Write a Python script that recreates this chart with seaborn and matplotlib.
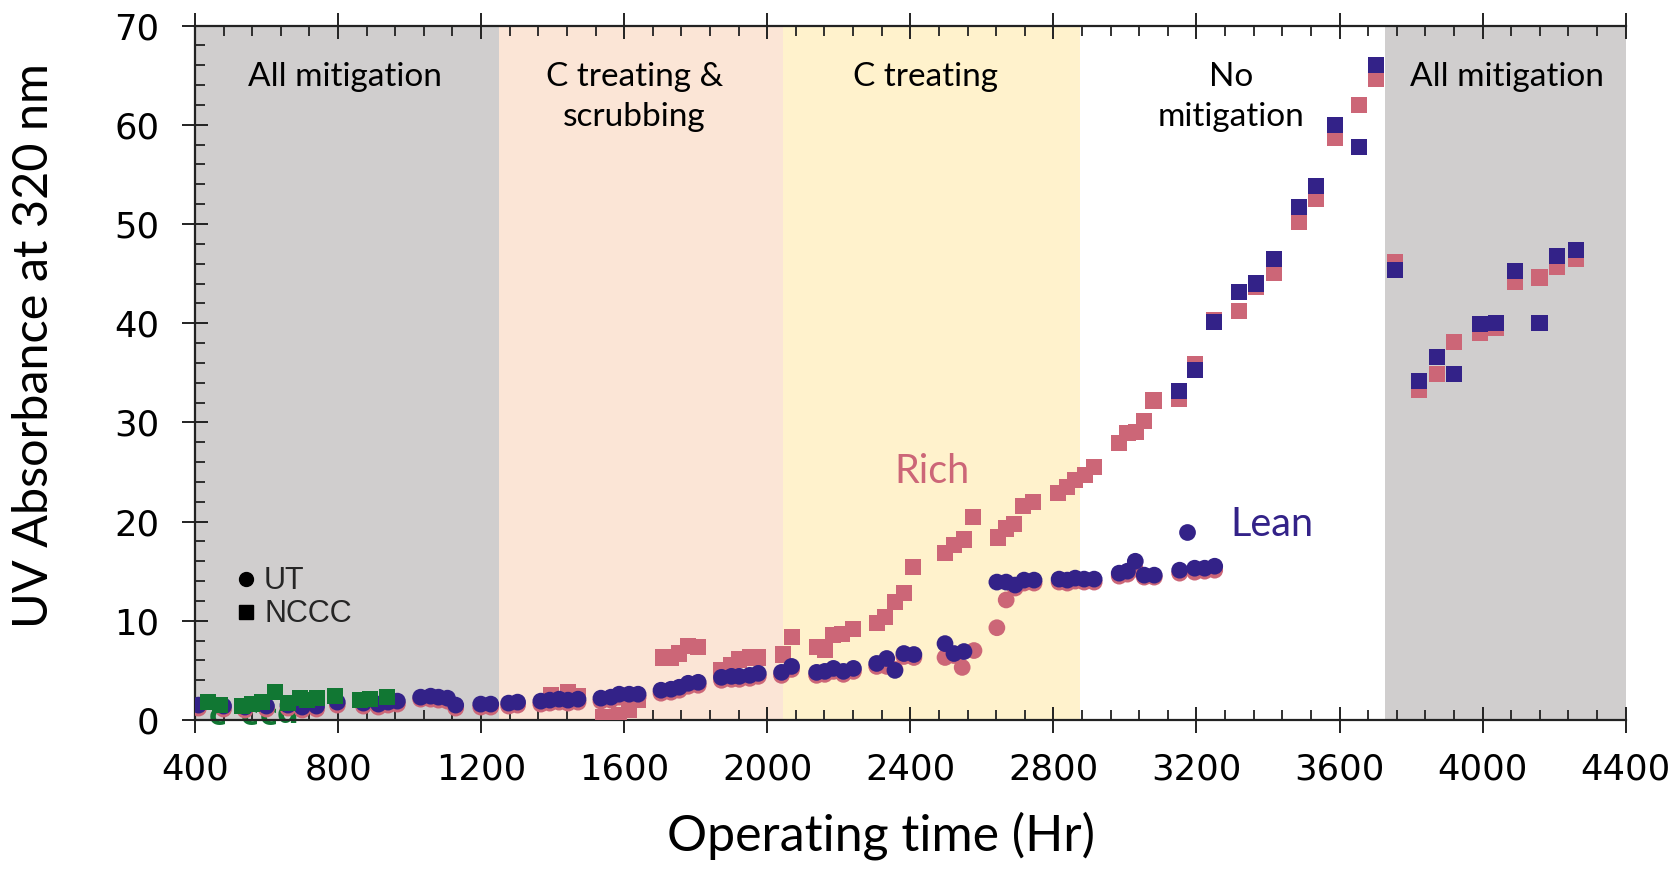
import numpy as np
import pandas as pd
import matplotlib
matplotlib.use("Agg")
import matplotlib.pyplot as plt
import seaborn as sns
from matplotlib.ticker import MultipleLocator
from matplotlib.lines import Line2D

# ---------------- data ----------------
phase_edges = [400, 1250, 2045, 2875, 3727, 4400]
phase_colors = ["#D0CECE", "#FBE5D6", "#FFF2CC", "#FFFFFF", "#D0CECE"]
phase_labels = ["All mitigation", "C treating &\nscrubbing", "C treating", "No\nmitigation", "All mitigation"]
phase_label_x = [820, 1628, 2442, 3297, 4068]

ut_lean_time = [410, 480, 540, 600, 660, 700, 740, 798, 871, 913, 940, 966, 1031, 1059, 1081, 1106, 1129,
                1199, 1227, 1277, 1302, 1367, 1392, 1418, 1443, 1471, 1535, 1563, 1586, 1614, 1639,
                1703, 1731, 1754, 1779, 1807, 1872, 1900, 1922, 1951, 1975, 2040, 2068,
                2138, 2161, 2185, 2213, 2241, 2306, 2334, 2357, 2382, 2410, 2497, 2522, 2550,
                2642, 2668, 2693, 2718, 2746, 2816, 2839, 2861, 2886, 2914,
                2984, 3007, 3029, 3054, 3082, 3153, 3175, 3195, 3223, 3251]
ut_lean = [1.5, 1.4, 1.3, 1.4, 1.5, 1.3, 1.4, 1.8, 1.7, 1.6, 1.8, 1.9, 2.3, 2.4, 2.3, 2.2, 1.5,
           1.6, 1.6, 1.7, 1.8, 1.9, 2.0, 2.1, 2.0, 2.1, 2.2, 2.3, 2.6, 2.6, 2.6,
           3.0, 3.1, 3.3, 3.7, 3.8, 4.3, 4.4, 4.4, 4.5, 4.7, 4.8, 5.4,
           4.8, 4.9, 5.2, 4.9, 5.2, 5.7, 6.2, 5.0, 6.7, 6.6, 7.7, 6.7, 6.9,
           13.9, 13.9, 13.6, 14.1, 14.1, 14.2, 14.1, 14.3, 14.2, 14.2,
           14.8, 15.0, 16.0, 14.6, 14.6, 15.1, 18.9, 15.3, 15.3, 15.5]

ut_rich_time = [410, 480, 540, 600, 660, 700, 740, 798, 871, 913, 940, 966, 1031, 1059, 1081, 1106, 1129,
                1199, 1227, 1277, 1302, 1367, 1392, 1418, 1443, 1471, 1535, 1563, 1586, 1614, 1639,
                1703, 1731, 1754, 1779, 1807, 1872, 1900, 1922, 1951, 1975, 2040, 2068,
                2138, 2161, 2185, 2213, 2241, 2306, 2334, 2357, 2382, 2410, 2497, 2522, 2545, 2578,
                2642, 2668, 2693, 2718, 2746, 2816, 2839, 2861, 2886, 2914,
                2984, 3007, 3029, 3054, 3082, 3153, 3195, 3223, 3251]
ut_rich = [1.2, 1.1, 1.0, 1.1, 1.2, 1.0, 1.1, 1.5, 1.4, 1.3, 1.5, 1.6, 2.1, 2.1, 2.0, 1.9, 1.2,
           1.3, 1.3, 1.4, 1.5, 1.6, 1.7, 1.8, 1.7, 1.8, 1.9, 2.0, 2.3, 2.3, 2.3,
           2.7, 2.8, 3.0, 3.4, 3.5, 4.0, 4.1, 4.1, 4.2, 4.4, 4.5, 5.1,
           4.5, 4.6, 4.9, 4.6, 4.9, 5.4, 5.4, 5.1, 6.4, 6.3, 6.3, 6.5, 5.3, 7.0,
           9.3, 12.1, 13.3, 13.8, 13.8, 13.9, 13.8, 14.0, 13.9, 13.9,
           14.5, 14.7, 15.2, 14.4, 14.4, 14.8, 14.9, 15.0, 15.1]

nccc_rich_time = [1395, 1443, 1471, 1540, 1563, 1586, 1614, 1639, 1709, 1731, 1754, 1779, 1807,
                  1872, 1900, 1922, 1951, 1975, 2045, 2068, 2138, 2161, 2185, 2208, 2239,
                  2306, 2329, 2357, 2382, 2407, 2497, 2522, 2550, 2575, 2645, 2668, 2690, 2715, 2743,
                  2813, 2839, 2861, 2889, 2913, 2983, 3007, 3030, 3054, 3080,
                  3150, 3197, 3249, 3318, 3367, 3416, 3487, 3535, 3587, 3655, 3703,
                  3755, 3823, 3872, 3921, 3993, 4038, 4091, 4159, 4208, 4260]
nccc_rich = [2.5, 2.8, 2.4, 0.3, 0.2, 0.5, 1.0, 2.0, 6.3, 6.3, 6.7, 7.5, 7.4,
             5.0, 5.5, 6.1, 6.3, 6.3, 6.6, 8.4, 7.4, 7.1, 8.6, 8.7, 9.2,
             9.8, 10.4, 11.9, 12.8, 15.4, 16.8, 17.6, 18.2, 20.5, 18.4, 19.3, 19.8, 21.6, 22.0,
             22.9, 23.5, 24.2, 24.7, 25.5, 27.9, 28.9, 29.0, 30.1, 32.2,
             32.4, 35.9, 40.3, 41.2, 43.7, 45.1, 50.2, 52.5, 58.7, 62.0, 64.6,
             46.2, 33.3, 34.9, 38.1, 39.0, 39.5, 44.2, 44.6, 45.7, 46.5]

nccc_lean_time = [3150, 3197, 3249, 3318, 3367, 3416, 3487, 3535, 3587, 3655, 3703,
                  3755, 3823, 3872, 3921, 3993, 4038, 4091, 4159, 4208, 4260]
nccc_lean = [33.2, 35.3, 40.1, 43.1, 44.0, 46.5, 51.7, 53.8, 60.0, 57.8, 66.0,
             45.4, 34.2, 36.6, 34.9, 39.9, 40.0, 45.3, 40.0, 46.8, 47.4]

green_time = [436, 470, 532, 560, 588, 624, 660, 694, 714, 742, 792, 862, 890, 938]
green_vals = [1.8, 1.5, 1.4, 1.6, 1.8, 2.8, 1.7, 2.2, 2.0, 2.2, 2.4, 2.0, 2.1, 2.3]
green_letters = ["c", "c", "c", "d"]
green_letter_x = [464, 554, 605, 658]
green_letter_y = [0.35, 0.35, 0.35, 0.6]

rich_color = "#CC6677"
lean_color = "#332288"
green_color = "#117733"

# ---------------- style ----------------
sns.set_theme(style="white")
plt.rcParams['font.family'] = ['DejaVu Sans']

fig = plt.figure(figsize=(16.72, 8.88), dpi=100)
ax = fig.add_axes([0.1166, 0.1892, 0.8557, 0.7820])

# phase shading and labels
for i in range(len(phase_colors)):
    ax.axvspan(phase_edges[i], phase_edges[i + 1], color=phase_colors[i], lw=0, zorder=0)
for lab, xx in zip(phase_labels, phase_label_x):
    yy = 62.8 if "\n" in lab else 64.8
    ax.text(xx, yy, lab, ha="center", va="center", family="Lato", fontsize=24,
            color="black", linespacing=1.38, zorder=1)

# green letters (under squares)
for t, gx, gy in zip(green_letters, green_letter_x, green_letter_y):
    ax.text(gx, gy, t, color=green_color, fontsize=22, fontweight="bold", ha="center",
            va="center", zorder=2)

sz_c = 145
sz_s = 135
sns.scatterplot(x=ut_rich_time, y=ut_rich, marker="o", s=sz_c, color=rich_color,
                edgecolor="none", linewidth=0, ax=ax, zorder=3, legend=False)
sns.scatterplot(x=nccc_rich_time, y=nccc_rich, marker="s", s=sz_s, color=rich_color,
                edgecolor="none", linewidth=0, ax=ax, zorder=3, legend=False)
sns.scatterplot(x=ut_lean_time, y=ut_lean, marker="o", s=sz_c, color=lean_color,
                edgecolor="none", linewidth=0, ax=ax, zorder=4, legend=False)
sns.scatterplot(x=nccc_lean_time, y=nccc_lean, marker="s", s=sz_s, color=lean_color,
                edgecolor="none", linewidth=0, ax=ax, zorder=4, legend=False)
sns.scatterplot(x=green_time, y=green_vals, marker="s", s=sz_s, color=green_color,
                edgecolor="none", linewidth=0, ax=ax, zorder=5, legend=False)

ax.text(2460, 25.0, "Rich", color=rich_color, family="Lato", fontsize=28.5, ha="center", va="center")
ax.text(3411, 19.7, "Lean", color=lean_color, family="Lato", fontsize=28.5, ha="center", va="center")

# axes
ax.set_xlim(400, 4400)
ax.set_ylim(0, 70)
ax.xaxis.set_major_locator(MultipleLocator(400))
ax.xaxis.set_minor_locator(MultipleLocator(80))
ax.yaxis.set_major_locator(MultipleLocator(10))
ax.yaxis.set_minor_locator(MultipleLocator(2))
ax.tick_params(which="major", direction="inout", length=19, width=1.4, color="#222222",
               top=True, bottom=True, left=True, right=False, labelsize=25.5, labelcolor="black")
ax.tick_params(which="minor", direction="in", length=7, width=1.3, color="#222222",
               top=True, bottom=True, left=True, right=False)
ax.tick_params(axis="x", pad=14)
ax.tick_params(axis="y", pad=16)
for side in ["left", "bottom", "top"]:
    ax.spines[side].set_visible(True)
    ax.spines[side].set_color("#222222")
    ax.spines[side].set_linewidth(1.6)
ax.spines["right"].set_visible(False)
ax.grid(False)

ax.set_xlabel("Operating time (Hr)", family="Lato", fontsize=36, color="black")
ax.set_ylabel("UV Absorbance at 320 nm", family="Lato", fontsize=35, color="black")
ax.xaxis.set_label_coords(0.4795, -0.132)
ax.yaxis.set_label_coords(-0.097, 0.539)

handles = [Line2D([], [], marker="o", color="black", ls="", ms=10),
           Line2D([], [], marker="s", color="black", ls="", ms=10)]
leg = ax.legend(handles, ["UT", "NCCC"], loc="center left", bbox_to_anchor=(0.028, 0.176),
                frameon=False, prop={"family": "Liberation Sans", "size": 22},
                handletextpad=0.2, handlelength=0.75, labelspacing=0.1, borderpad=0, borderaxespad=0)

fig.savefig("out.png", dpi=100)
